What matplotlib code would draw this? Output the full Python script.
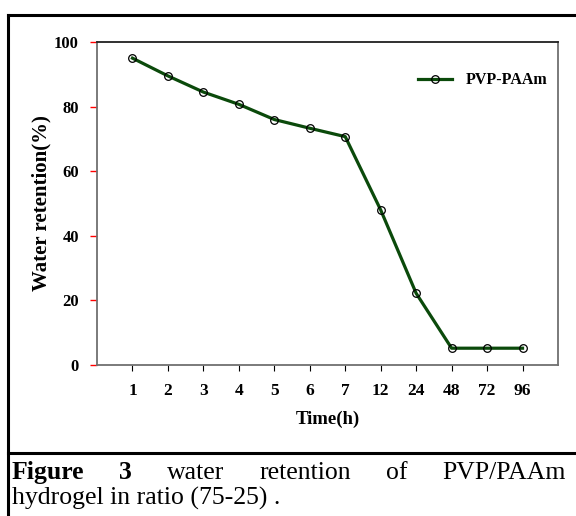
import matplotlib
matplotlib.use("Agg")
import matplotlib.pyplot as plt
from matplotlib.lines import Line2D

plt.rcParams['font.family'] = ['Liberation Serif', 'DejaVu Serif']

time_labels = ['1', '2', '3', '4', '5', '6', '7', '12', '24', '48', '72', '96']
retention = [95.0, 89.5, 84.5, 80.7, 76.0, 73.3, 70.7, 48.0, 22.2, 5.2, 5.2, 5.2]
y_ticks = [0, 20, 40, 60, 80, 100]
series_name = 'PVP-PAAm'

W, H = 576, 516
fig = plt.figure(figsize=(W / 100, H / 100), dpi=100)

def fx(px):
    return px / W

def fy(py):
    return 1 - py / H

ax = fig.add_axes([fx(97), fy(365), fx(558) - fx(97), fy(42) - fy(365)])
x = list(range(1, len(time_labels) + 1))
ax.plot(x, retention, color='#0b4a0b', lw=2.3, marker='o', ms=5.5,
        mfc='none', mec='black', mew=0.9, label=series_name, zorder=3)
ax.set_xlim(0, 13)
ax.set_ylim(0, 100)
ax.set_xticks(x)
ax.set_xticklabels(time_labels, fontsize=12.5, fontweight='bold')
ax.set_yticks(y_ticks)
ax.set_yticklabels([str(v) for v in y_ticks], fontsize=12, fontweight='bold')
ax.tick_params(axis='y', direction='out', length=5, width=1, colors='red', labelcolor='black', pad=8)
ax.tick_params(axis='x', direction='out', length=4, width=0.8, colors='black', pad=9)
for s in ['left', 'bottom', 'right']:
    ax.spines[s].set_color('#707070')
    ax.spines[s].set_linewidth(1.3)
ax.spines['top'].set_color('#202020')
ax.spines['top'].set_linewidth(1.3)

ax.set_xlabel('Time(h)', fontsize=13.5, fontweight='bold')
ax.set_ylabel('Water retention(%)', fontsize=15, fontweight='bold')
ax.yaxis.set_label_coords((51 - 97) / 461, 0.5)
ax.xaxis.set_label_coords(0.5, (365 - 411) / 323)

leg = ax.legend(loc='center left', bbox_to_anchor=(fx(418), fy(80.5)), bbox_transform=fig.transFigure,
                frameon=False, prop={'size': 11.5, 'weight': 'bold'}, handlelength=2.1,
                handletextpad=0.87, borderaxespad=0, borderpad=0)

# outer table-like borders
lw = 2.2
fig.add_artist(Line2D([fx(8), 1.0], [fy(15), fy(15)], color='black', lw=lw))
fig.add_artist(Line2D([fx(8), fx(8)], [fy(15), 0], color='black', lw=lw))
fig.add_artist(Line2D([fx(8), 1.0], [fy(453), fy(453)], color='black', lw=lw))

# caption, line 1 justified
fig.canvas.draw()
r = fig.canvas.get_renderer()
words = [('Figure', 'bold'), ('3', 'bold'), ('water', 'normal'), ('retention', 'normal'),
         ('of', 'normal'), ('PVP/PAAm', 'normal')]
left, right = 12, 566
cap_size = 18.5
texts = []
for w, wt in words:
    t = fig.text(0, fy(479), w, fontsize=cap_size, fontweight=wt, va='baseline', ha='left')
    texts.append(t)
widths = [t.get_window_extent(r).width for t in texts]
gap = (right - left - sum(widths)) / (len(words) - 1)
pos = left
for t, wd in zip(texts, widths):
    t.set_x(fx(pos))
    pos += wd + gap
fig.text(fx(left), fy(505), 'hydrogel in ratio (75-25) .', fontsize=cap_size, va='baseline', ha='left')

fig.savefig('out.png', dpi=100)
